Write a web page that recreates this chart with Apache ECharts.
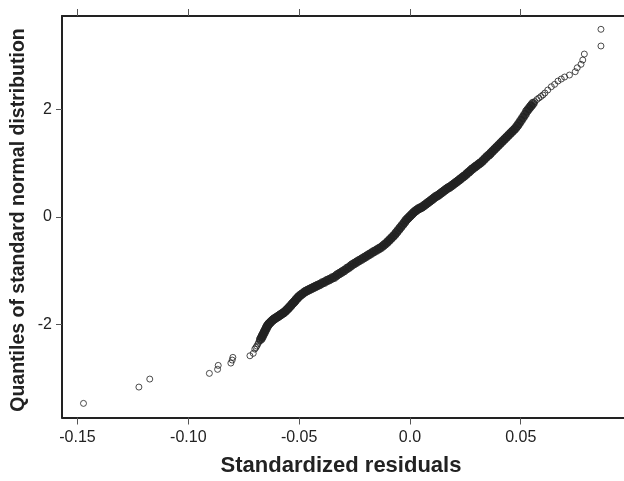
<!DOCTYPE html>
<html>
<head>
<meta charset="utf-8">
<script src="https://cdn.jsdelivr.net/npm/echarts@6/dist/echarts.min.js"></script>
<style>
  html, body { margin: 0; padding: 0; background: #ffffff; }
  #chart { width: 624px; height: 481px; }
</style>
</head>
<body>
<div id="chart"></div>
<script>
// ---- Data ----
const xTickValues = [-0.15, -0.10, -0.05, 0.0, 0.05];
const xTickLabels = ['-0.15', '-0.10', '-0.05', '0.0', '0.05'];
const yTickValues = [-2, 0, 2];
const yTickLabels = ['-2', '0', '2'];
const xTitle = 'Standardized residuals';
const yTitle = 'Quantiles of standard normal distribution';

// [standardized residual, quantile of standard normal]
// sparse lower tail (individual circles visible)
const lowerTailPoints = [
  [-0.1473, -3.477], [-0.1223, -3.173], [-0.1174, -3.024], [-0.0905, -2.918],
  [-0.0868, -2.843], [-0.0865, -2.769], [-0.0808, -2.726], [-0.0802, -2.670],
  [-0.0799, -2.620], [-0.0722, -2.590], [-0.0707, -2.545],
  [-0.0700,-2.465],[-0.0695,-2.437],[-0.0691,-2.409],[-0.0686,-2.372],[-0.0682,-2.335],
  [-0.0677,-2.307]
];
// dense middle part (points overlap into a solid band)
const densePoints = [
  [-0.0673,-2.279],[-0.0668,-2.241],[-0.0664,-2.204],[-0.0659,-2.167],
  [-0.0655,-2.130],[-0.0650,-2.092],[-0.0646,-2.055],[-0.0642,-2.027],[-0.0637,-1.999],
  [-0.0633,-1.981],[-0.0626,-1.953],[-0.0619,-1.925],[-0.0613,-1.906],[-0.0606,-1.887],
  [-0.0599,-1.869],[-0.0592,-1.850],[-0.0586,-1.832],[-0.0579,-1.813],[-0.0572,-1.794],
  [-0.0566,-1.776],[-0.0559,-1.748],[-0.0552,-1.720],[-0.0546,-1.692],[-0.0539,-1.664],
  [-0.0532,-1.627],[-0.0525,-1.599],[-0.0519,-1.571],[-0.0512,-1.533],[-0.0505,-1.506],
  [-0.0499,-1.478],[-0.0490,-1.450],[-0.0481,-1.422],[-0.0472,-1.394],[-0.0463,-1.375],
  [-0.0454,-1.356],[-0.0445,-1.338],[-0.0436,-1.319],[-0.0427,-1.301],[-0.0418,-1.282],
  [-0.0407,-1.263],[-0.0396,-1.235],[-0.0385,-1.217],[-0.0374,-1.189],[-0.0363,-1.170],
  [-0.0351,-1.142],[-0.0340,-1.124],[-0.0329,-1.086],[-0.0318,-1.058],[-0.0307,-1.030],
  [-0.0296,-1.002],[-0.0284,-0.965],[-0.0273,-0.937],[-0.0262,-0.900],[-0.0251,-0.872],
  [-0.0240,-0.844],[-0.0229,-0.816],[-0.0217,-0.788],[-0.0206,-0.760],[-0.0195,-0.732],
  [-0.0184,-0.704],[-0.0173,-0.676],[-0.0162,-0.648],[-0.0150,-0.620],[-0.0139,-0.593],
  [-0.0128,-0.565],[-0.0117,-0.527],[-0.0106,-0.490],[-0.0097,-0.453],[-0.0088,-0.416],
  [-0.0079,-0.378],[-0.0070,-0.341],[-0.0061,-0.294],[-0.0052,-0.248],[-0.0043,-0.201],
  [-0.0034,-0.155],[-0.0025,-0.108],[-0.0017,-0.062],[-0.0008,-0.024],[0.0001,0.013],
  [0.0010,0.050],[0.0019,0.088],[0.0028,0.116],[0.0037,0.144],[0.0046,0.162],
  [0.0055,0.181],[0.0064,0.209],[0.0073,0.237],[0.0082,0.265],[0.0091,0.293],
  [0.0100,0.321],[0.0108,0.348],[0.0117,0.376],[0.0126,0.395],[0.0135,0.423],
  [0.0144,0.451],[0.0153,0.479],[0.0162,0.507],[0.0171,0.535],[0.0180,0.553],
  [0.0189,0.581],[0.0198,0.609],[0.0207,0.637],[0.0216,0.665],[0.0225,0.693],
  [0.0233,0.721],[0.0242,0.749],[0.0251,0.777],[0.0260,0.814],[0.0269,0.842],
  [0.0278,0.879],[0.0287,0.907],[0.0296,0.935],[0.0305,0.963],[0.0314,0.991],
  [0.0323,1.019],[0.0332,1.056],[0.0341,1.094],[0.0350,1.131],[0.0359,1.159],
  [0.0367,1.196],[0.0376,1.233],[0.0385,1.271],[0.0394,1.308],[0.0403,1.345],
  [0.0412,1.383],[0.0421,1.420],[0.0430,1.457],[0.0439,1.494],[0.0448,1.532],
  [0.0457,1.569],[0.0466,1.606],[0.0475,1.643],[0.0484,1.690],[0.0492,1.737],
  [0.0501,1.792],[0.0510,1.848],[0.0519,1.904],[0.0528,1.969],[0.0537,2.016],
  [0.0546,2.063],[0.0555,2.109]
];
// sparse upper tail (individual circles visible)
const upperTailPoints = [
  [0.0564,2.146],[0.0573,2.184],[0.0582,2.212],[0.0591,2.240],[0.0600,2.268],[0.0609,2.305],
  [0.0622, 2.361], [0.0638, 2.422], [0.0653, 2.467], [0.0668, 2.528],
  [0.0683, 2.566], [0.0698, 2.603], [0.0720, 2.640], [0.0746, 2.702],
  [0.0755, 2.776], [0.0772, 2.840], [0.0780, 2.920], [0.0787, 3.031],
  [0.0862, 3.181], [0.0862, 3.492]
];

// ---- Chart ----
const FONT = '"Liberation Sans", Arial, Helvetica, sans-serif';
const INK = '#222222';
const chart = echarts.init(document.getElementById('chart'), null, { renderer: 'canvas' });

const hollowStyle = {
  type: 'scatter', symbol: 'circle', symbolSize: 6,
  itemStyle: { color: 'rgba(255,255,255,0)', borderColor: INK, borderWidth: 1 },
  silent: true, animation: false
};
const denseStyle = {
  type: 'scatter', symbol: 'circle', symbolSize: 8.5,
  itemStyle: { color: INK, borderColor: INK, borderWidth: 1 },
  silent: true, animation: false
};

chart.setOption({
  backgroundColor: '#ffffff',
  animation: false,
  grid: { left: 62, right: -6, top: 16, bottom: 63.5, containLabel: false },
  xAxis: [
    {
      type: 'value', position: 'bottom', min: -0.157, max: 0.0966,
      axisLine: { show: true, onZero: false, lineStyle: { color: INK, width: 2 } },
      axisTick: { show: true, length: 7, customValues: xTickValues, lineStyle: { color: '#555', width: 1 } },
      axisLabel: {
        show: true, customValues: xTickValues, margin: 12,
        color: INK, fontFamily: FONT, fontSize: 16,
        formatter: function (v) {
          const i = xTickValues.findIndex(t => Math.abs(t - v) < 1e-9);
          return i >= 0 ? xTickLabels[i] : '';
        }
      },
      splitLine: { show: false }
    },
    {
      type: 'value', position: 'top', min: -0.157, max: 0.0966,
      axisLine: { show: true, onZero: false, lineStyle: { color: INK, width: 2 } },
      axisTick: { show: true, length: 7, customValues: xTickValues, lineStyle: { color: '#555', width: 1 } },
      axisLabel: { show: false },
      splitLine: { show: false }
    }
  ],
  yAxis: {
    type: 'value', min: -3.74, max: 3.74,
    axisLine: { show: true, onZero: false, lineStyle: { color: INK, width: 2 } },
    axisTick: { show: true, length: 6, customValues: yTickValues, lineStyle: { color: '#555', width: 1 } },
    axisLabel: {
      show: true, customValues: yTickValues, margin: 10,
      color: INK, fontFamily: FONT, fontSize: 16,
      formatter: function (v) {
        const i = yTickValues.findIndex(t => Math.abs(t - v) < 1e-9);
        return i >= 0 ? yTickLabels[i] : '';
      }
    },
    splitLine: { show: false }
  },
  graphic: [
    {
      type: 'text', x: 341, y: 466, silent: true,
      style: { text: xTitle, fill: INK, font: 'bold 22px ' + FONT, align: 'center', verticalAlign: 'middle' }
    },
    {
      type: 'text', x: 19, y: 220, rotation: Math.PI / 2, silent: true,
      style: { text: yTitle, fill: INK, font: 'bold 19.5px ' + FONT, align: 'center', verticalAlign: 'middle' }
    }
  ],
  series: [
    Object.assign({ name: 'lower', data: lowerTailPoints }, hollowStyle),
    Object.assign({ name: 'dense', data: densePoints }, denseStyle),
    Object.assign({ name: 'upper', data: upperTailPoints }, hollowStyle)
  ]
});
</script>
</body>
</html>
